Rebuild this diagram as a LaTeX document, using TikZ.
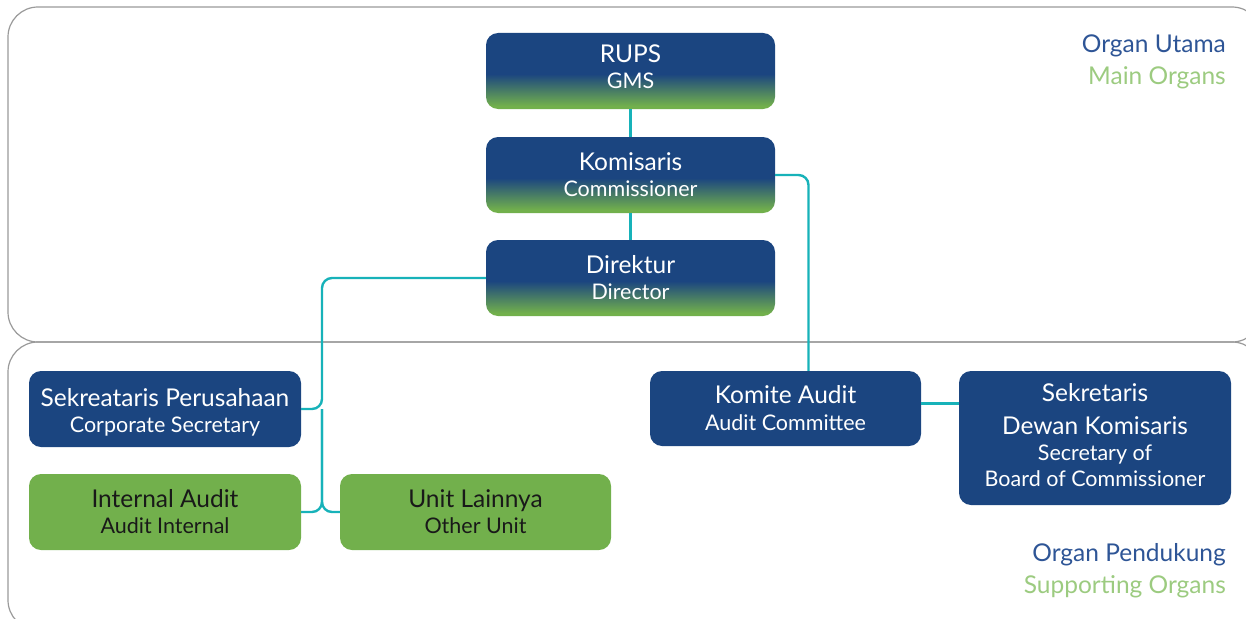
\documentclass[tikz,border=0pt]{standalone}
\usepackage{fontspec}
\setmainfont{Lato}
\definecolor{navy}{HTML}{1B4580}
\definecolor{leaf}{HTML}{72B04C}
\definecolor{teal}{HTML}{17B2B9}
\definecolor{frame}{HTML}{9A9A9A}
\definecolor{lblblue}{HTML}{2E5596}
\definecolor{lblgreen}{HTML}{9CCB80}
\pgfdeclareverticalshading{navyleaf}{100bp}{color(0bp)=(leaf); color(25bp)=(leaf); color(27bp)=(leaf); color(48bp)=(navy); color(100bp)=(navy)}
% line struts: title and subtitle lines of uniform height/depth
\newcommand{\tl}[2][29pt]{\rule[-6pt]{0pt}{#1}#2}
\newcommand{\subt}[2][-6pt]{{\fontsize{21.5}{26}\selectfont\rule[#1]{0pt}{17pt}#2}}
\begin{document}
\begin{tikzpicture}[x=1pt,y=-1pt,
  box/.style={rounded corners=12pt, inner sep=0pt, align=center, font=\fontsize{24.5}{26.5}\selectfont},
  bluebox/.style={box, fill=navy, text=white},
  gradbox/.style={box, shading=navyleaf, text=white},
  greenbox/.style={box, fill=leaf, text=black!90},
  link/.style={draw=teal, line width=2.4pt, rounded corners=10pt},
  panel/.style={draw=frame, line width=1.2pt, rounded corners=30pt},
  lbl/.style={anchor=east, inner sep=0pt, font=\fontsize{24.5}{28}\selectfont}
]
\useasboundingbox (0,0) rectangle (1246,618);
% panels
\draw[panel] (8,342) -- (8,7) -- (1262,7) -- (1262,342) -- cycle;
\draw[panel] (8,630) -- (8,342) -- (1262,342) -- (1262,630) -- cycle;

% nodes
\node[gradbox, minimum width=289pt, minimum height=76pt] (rups) at (630.5,71)
  {\tl{RUPS}\\\subt[-14pt]{GMS}};
\node[gradbox, minimum width=289pt, minimum height=76pt] (kom) at (630.5,175)
  {\tl{Komisaris}\\\subt{Commissioner}};
\node[gradbox, minimum width=289pt, minimum height=76pt] (dir) at (630.5,278)
  {\tl{Direktur}\\\subt{Director}};
\node[bluebox, minimum width=272pt, minimum height=76pt] (sekper) at (165,409)
  {\tl[33pt]{Sekreataris Perusahaan}\\\subt{Corporate Secretary}};
\node[greenbox, minimum width=272pt, minimum height=76pt] (ia) at (165,512)
  {\tl{Internal Audit}\\\subt{Audit Internal}};
\node[greenbox, minimum width=271pt, minimum height=76pt] (unit) at (475.5,512)
  {\tl{Unit Lainnya}\\\subt{Other Unit}};
\node[bluebox, minimum width=271pt, minimum height=75pt] (komite) at (785.5,408.5)
  {\tl{Komite Audit}\\\subt{Audit Committee}};
\node[bluebox, minimum width=272pt, minimum height=134pt] (sekdk) at (1095,438)
  {\tl[20pt]{Sekretaris}\\[6.5pt]\tl[20pt]{Dewan Komisaris}\\[-0.5pt]\subt{Secretary of}\\[-0.5pt]\subt{Board of Commissioner}};

% labels
\node[lbl, text=lblblue] (lu) at (1226,46) {Organ Utama};
\node[lbl, text=lblgreen] (lm) at (1226,78) {Main Organs};
\node[lbl, text=lblblue] (lp) at (1226,555) {Organ Pendukung};
\node[lbl, text=lblgreen] (ls) at (1226,587) {Supporting Organs};

% connectors
\coordinate (trunk) at (322,0);
\draw[link] (rups.south) -- (kom.north);
\draw[link] (kom.south) -- (dir.north);
\draw[link] (kom.east) -| ([xshift=23pt]komite.north);
\draw[link] (dir.west) -| (trunk |- sekper.east) -- (sekper.east);
\draw[link] (trunk |- sekper.east) -- ++(0,-1) |- (ia.east);
\draw[link] (trunk |- sekper.east) -- ++(0,-1) |- (unit.west);
\draw[link] ([yshift=5pt]komite.east) -- ([yshift=5pt]komite.east -| sekdk.west);
\end{tikzpicture}
\end{document}
